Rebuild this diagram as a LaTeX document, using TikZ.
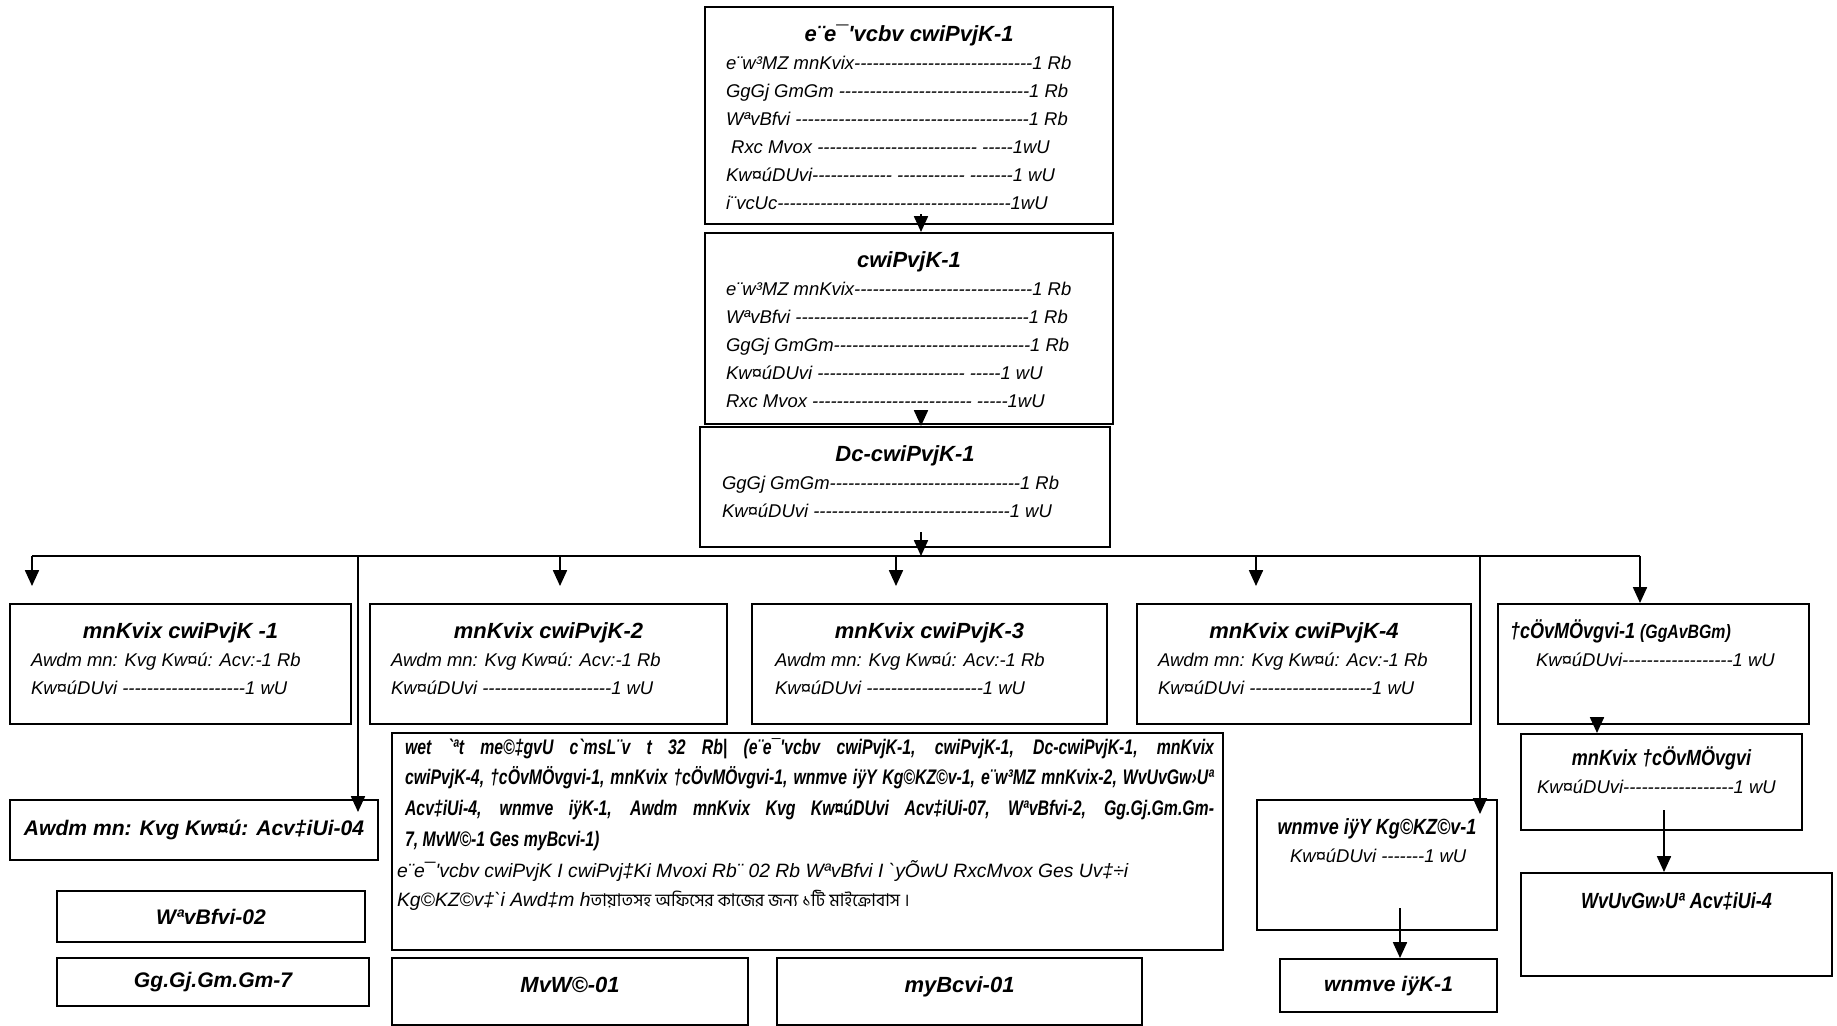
\documentclass[tikz,border=0pt]{standalone}
\usepackage{fontspec}
\newfontfamily\orgfont{Liberation Sans}
\newfontfamily\notefont{Liberation Sans}[FakeStretch=0.82]
\newfontfamily\condfont{Liberation Sans}[FakeStretch=0.75]
\newfontfamily\bnfont[Script=Bengali]{Hind Siliguri}
\usetikzlibrary{arrows.meta,calc}

\newdimen\pxd \pxd=0.02cm
\newcommand{\ttlf}{\fontsize{12.5}{15}\selectfont\bfseries\itshape}
\newcommand{\ttlnf}{\notefont\fontsize{12.5}{15}\selectfont\bfseries\itshape}
\newcommand{\sglf}{\fontsize{12}{15}\selectfont\bfseries\itshape}
\newcommand{\txtf}{\fontsize{10.5}{16}\selectfont\itshape}
% box with text from the top
\newcommand{\orgbox}[3]{\parbox[c][#2\pxd][t]{#1\pxd}{#3}}
% box with one centred line
\newcommand{\sglbox}[3]{\parbox[c][#2\pxd][c]{#1\pxd}{\centering\sglf #3\par}}
\newcommand{\ttline}[1]{{\centering\ttlf\rule{0pt}{34\pxd}#1\par}}
\newcommand{\tline}[2][21]{{\txtf\leftskip=#1\pxd\noindent\mbox{#2}\par}}

\begin{document}
\begin{tikzpicture}[x=0.02cm, y=-0.02cm, font=\orgfont,
  box/.style={draw, line width=1.2pt, inner sep=0pt, anchor=north west},
  arr/.style={-{Triangle[width=8pt,length=9pt]}, line width=0.85pt}]
  \useasboundingbox (0,0) rectangle (1837,1026);
  \begin{scope}[every node/.style={box}]
    % top of the chart
    \node (evp) at (704,6) {\orgbox{408}{217}{%
      \ttline{e¨e¯'vcbv cwiPvjK-1}%
      \tline{e¨w³MZ mnKvix-----------------------------1 Rb}%
      \tline{GgGj GmGm -------------------------------1 Rb}%
      \tline{WªvBfvi --------------------------------------1 Rb}%
      \tline{ Rxc Mvox -------------------------- -----1wU}%
      \tline{Kw¤úDUvi------------- ----------- -------1 wU}%
      \tline{i¨vcUc--------------------------------------1wU}}};
    \node (cp) at (704,232) {\orgbox{408}{191}{%
      \ttline{cwiPvjK-1}%
      \tline{e¨w³MZ mnKvix-----------------------------1 Rb}%
      \tline{WªvBfvi --------------------------------------1 Rb}%
      \tline{GgGj GmGm--------------------------------1 Rb}%
      \tline{Kw¤úDUvi ------------------------ -----1 wU}%
      \tline{Rxc Mvox -------------------------- -----1wU}}};
    \node (dcp) at (699,426) {\orgbox{410}{120}{%
      \ttline{Dc-cwiPvjK-1}%
      \tline[22]{GgGj GmGm-------------------------------1 Rb}%
      \tline[22]{Kw¤úDUvi --------------------------------1 wU}}};
    % second row
    \node (b1) at (9,603) {\orgbox{341}{120}{%
      \ttline{mnKvix cwiPvjK -1}%
      \tline{Awdm mn: Kvg Kw¤ú: Acv:-1 Rb}%
      \tline{Kw¤úDUvi --------------------1 wU}}};
    \node (b2) at (369,603) {\orgbox{357}{120}{%
      \ttline{mnKvix cwiPvjK-2}%
      \tline{Awdm mn: Kvg Kw¤ú: Acv:-1 Rb}%
      \tline{Kw¤úDUvi ---------------------1 wU}}};
    \node (b3) at (751,603) {\orgbox{355}{120}{%
      \ttline{mnKvix cwiPvjK-3}%
      \tline[23]{Awdm mn: Kvg Kw¤ú: Acv:-1 Rb}%
      \tline[23]{Kw¤úDUvi -------------------1 wU}}};
    \node (b4) at (1136,603) {\orgbox{334}{120}{%
      \ttline{mnKvix cwiPvjK-4}%
      \tline{Awdm mn: Kvg Kw¤ú: Acv:-1 Rb}%
      \tline{Kw¤úDUvi --------------------1 wU}}};
    \node (b5) at (1497,603) {\orgbox{311}{120}{%
      {\ttlnf\leftskip=12\pxd\noindent\rule{0pt}{34\pxd}†cÖvMÖvgvi-1 {\fontsize{11}{13}\selectfont (GgAvBGm)}\par}%
      \tline[38]{Kw¤úDUvi------------------1 wU}}};
    % lower left
    \node (ao) at (9,799) {\sglbox{368}{60}{Awdm mn: Kvg Kw¤ú: Acv‡iUi-04}};
    \node (drv) at (56,890) {\sglbox{308}{51}{WªvBfvi-02}};
    \node (mlss) at (56,957) {\sglbox{312}{48}{Gg.Gj.Gm.Gm-7}};
    % note
    \node (note) at (391,732) {\orgbox{831}{217}{%
      {\condfont\fontsize{12}{17.6}\selectfont\bfseries\itshape\leftskip=13\pxd\noindent
      \rule{0pt}{21\pxd}\makebox[809\pxd][s]{wet `ªt me©‡gvU c`msL¨v t 32 Rb| (e¨e¯'vcbv cwiPvjK-1, cwiPvjK-1, Dc-cwiPvjK-1, mnKvix}\\
      \makebox[809\pxd][s]{cwiPvjK-4, †cÖvMÖvgvi-1, mnKvix †cÖvMÖvgvi-1, wnmve iÿY Kg©KZ©v-1, e¨w³MZ mnKvix-2, WvUvGw›Uª}\\
      \makebox[809\pxd][s]{Acv‡iUi-4, wnmve iÿK-1, Awdm mnKvix Kvg Kw¤úDUvi Acv‡iUi-07, WªvBfvi-2, Gg.Gj.Gm.Gm-}\\
      7, MvW©-1 Ges myBcvi-1)\par}%
      \vspace{3\pxd}%
      {\fontsize{11}{16}\selectfont\itshape\leftskip=5\pxd\noindent
      e¨e¯'vcbv cwiPvjK I cwiPvj‡Ki Mvoxi Rb¨ 02 Rb WªvBfvi I `yÕwU RxcMvox Ges Uv‡÷i\\
      Kg©KZ©v‡`i Awd‡m h{\bnfont\fontsize{10}{16}\selectfont তায়াতসহ অফিসের কাজের জন্য ১টি মাইক্রোবাস ।}\par}}};
    \node (grd) at (391,957) {\orgbox{356}{67}{\ttline{MvW©-01}}};
    \node (swp) at (776,957) {\orgbox{365}{67}{\ttline{myBcvi-01}}};
    % lower right
    \node (hrk) at (1256,799) {\orgbox{240}{130}{%
      {\centering\ttlnf\rule{0pt}{34\pxd}wnmve iÿY Kg©KZ©v-1\par}%
      \tline[33]{Kw¤úDUvi -------1 wU}}};
    \node (hrk2) at (1279,958) {\sglbox{217}{53}{wnmve iÿK-1}};
    \node (ap) at (1520,733) {\orgbox{281}{96}{%
      {\centering\ttlnf\rule{0pt}{31\pxd}mnKvix †cÖvMÖvgvi\par}%
      \tline[16]{Kw¤úDUvi------------------1 wU}}};
    \node (de) at (1520,872) {\orgbox{311}{103}{%
      {\centering\ttlnf\rule{0pt}{35\pxd}WvUvGw›Uª Acv‡iUi-4\par}}};
  \end{scope}
  % bus line and drops
  \coordinate (hub) at (921,556);
  \coordinate (d1) at (32,556);
  \coordinate (d2) at (358,556);
  \coordinate (d3) at (560,556);
  \coordinate (d4) at (896,556);
  \coordinate (d5) at (1256,556);
  \coordinate (d6) at (1480,556);
  \coordinate (d7) at (1640,556);
  \draw[line width=0.85pt] (d1) -- (d7);
  \begin{scope}[every edge/.style={draw, arr}]
    \path ($(evp.south -| hub)+(0,-11)$) edge (cp.north -| hub);
    \path ($(cp.south -| hub)+(0,-8)$) edge (dcp.north -| hub);
    \path ($(dcp.south -| hub)+(0,-16)$) edge (hub);
    \path (d1) edge ($(b1.north -| d1)+(0,-17)$);
    \path (d2) edge ($(ao.north -| d2)+(0,13)$);
    \path (d3) edge ($(b2.north -| d3)+(0,-17)$);
    \path (d4) edge ($(b3.north -| d4)+(0,-17)$);
    \path (d5) edge ($(b4.north -| d5)+(0,-17)$);
    \path (d6) edge ($(hrk.north -| d6)+(0,15)$);
    \path (d7) edge (b5.north -| d7);
    \path ($(b5.south west)+(100,-6)$) edge ($(ap.north west)+(77,0)$);
    \path ($(ap.south west)+(144,-21)$) edge ($(de.north west)+(144,0)$);
    \path ($(hrk.south west)+(144,-23)$) edge ($(hrk2.north west)+(121,0)$);
  \end{scope}
\end{tikzpicture}
\end{document}
